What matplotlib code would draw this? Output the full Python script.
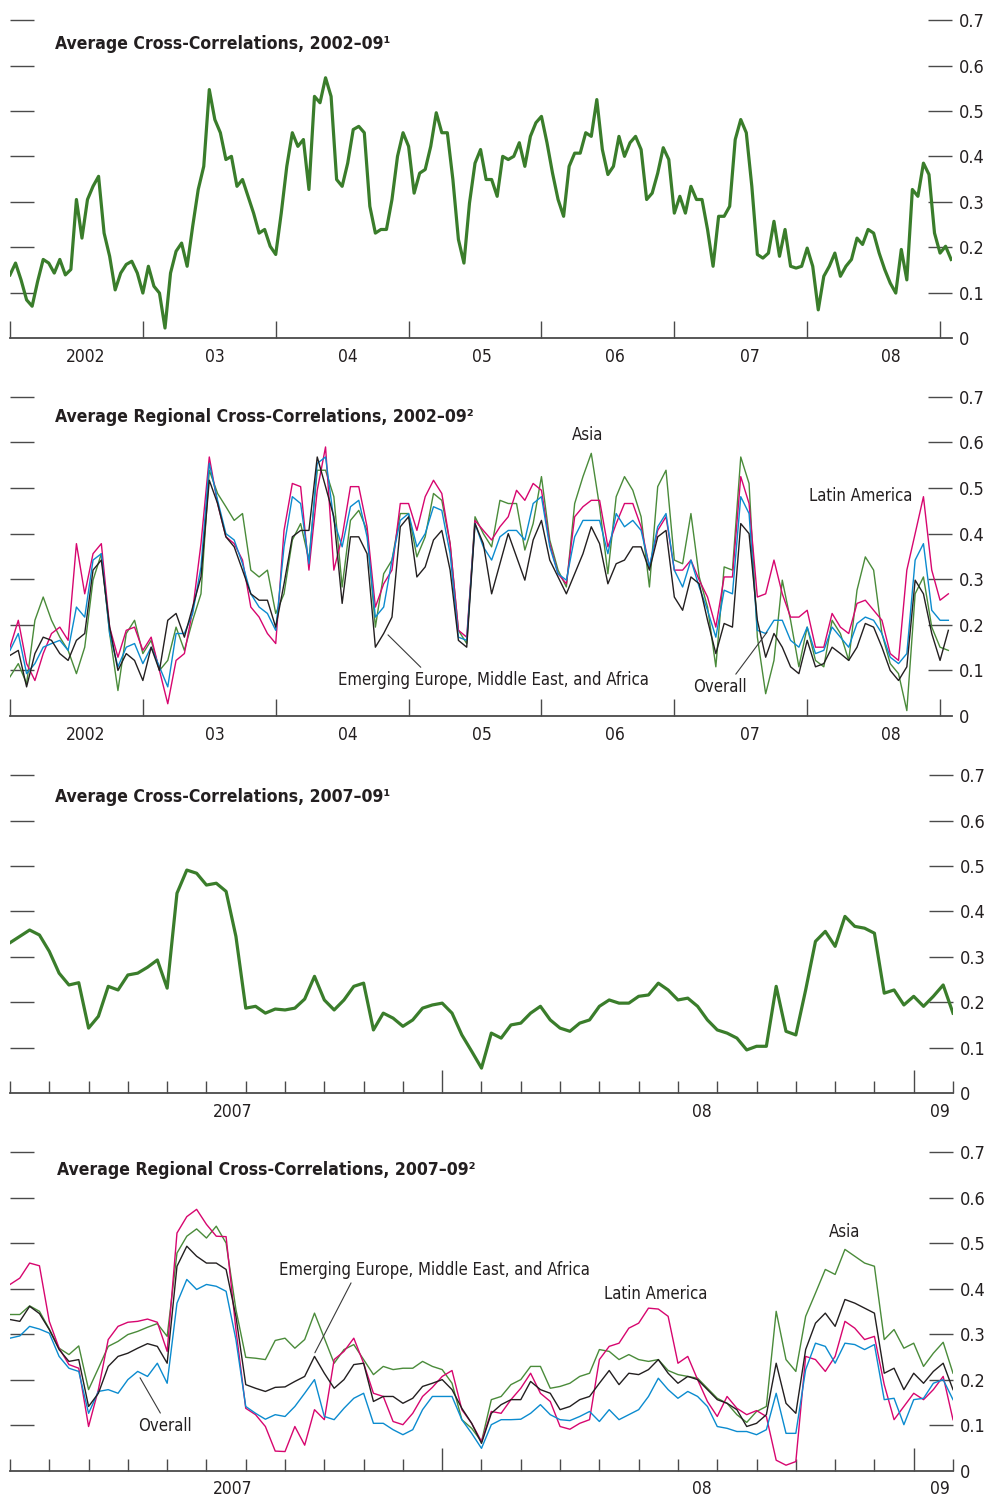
import numpy as np
import matplotlib
matplotlib.use("Agg")
import matplotlib.pyplot as plt
from matplotlib import font_manager

# ---- data: average cross-correlations ----
# panel 1: overall, 2002-09, samples every 1/24 year from Jan 2002
overall_02 = [
    0.139, 0.165, 0.128, 0.084, 0.070, 0.125, 0.173, 0.165, 0.143, 0.173,
    0.139, 0.151, 0.305, 0.220, 0.305, 0.334, 0.356, 0.231, 0.180, 0.106,
    0.143, 0.162, 0.169, 0.143, 0.099, 0.158, 0.114, 0.099, 0.022, 0.143,
    0.191, 0.209, 0.158, 0.246, 0.327, 0.378, 0.547, 0.481, 0.452, 0.393,
    0.400, 0.334, 0.349, 0.312, 0.275, 0.231, 0.239, 0.202, 0.184, 0.275,
    0.378, 0.452, 0.422, 0.437, 0.327, 0.532, 0.518, 0.573, 0.532, 0.349,
    0.334, 0.385, 0.459, 0.466, 0.452, 0.290, 0.231, 0.239, 0.239, 0.305,
    0.400, 0.452, 0.422, 0.319, 0.363, 0.371, 0.422, 0.496, 0.452, 0.452,
    0.349, 0.217, 0.165, 0.297, 0.385, 0.415, 0.349, 0.349, 0.312, 0.400,
    0.393, 0.400, 0.430, 0.378, 0.444, 0.474, 0.488, 0.430, 0.363, 0.305,
    0.268, 0.378, 0.407, 0.407, 0.452, 0.444, 0.525, 0.415, 0.360, 0.378,
    0.444, 0.400, 0.430, 0.444, 0.415, 0.305, 0.319, 0.363, 0.419, 0.393,
    0.275, 0.312, 0.275, 0.334, 0.305, 0.305, 0.239, 0.158, 0.268, 0.268,
    0.290, 0.437, 0.481, 0.452, 0.334, 0.184, 0.176, 0.187, 0.257, 0.180,
    0.239, 0.158, 0.154, 0.158, 0.198, 0.158, 0.062, 0.136, 0.158, 0.187,
    0.136, 0.158, 0.173, 0.220, 0.206, 0.239, 0.231, 0.187, 0.151, 0.121,
    0.099, 0.195, 0.128, 0.327, 0.312, 0.385, 0.360, 0.231, 0.187, 0.202,
    0.173]

# panel 2: regional, 2002-09, samples every 1/16 year
asia_02 = [
    0.086, 0.115, 0.071, 0.210, 0.261, 0.210, 0.173, 0.144, 0.093, 0.151,
    0.298, 0.356, 0.181, 0.056, 0.181, 0.210, 0.137, 0.166, 0.100, 0.122,
    0.195, 0.144, 0.210, 0.268, 0.539, 0.488, 0.459, 0.429, 0.444, 0.320,
    0.305, 0.320, 0.225, 0.268, 0.386, 0.422, 0.342, 0.539, 0.539, 0.481,
    0.283, 0.429, 0.451, 0.407, 0.195, 0.312, 0.342, 0.444, 0.444, 0.349,
    0.393, 0.488, 0.473, 0.378, 0.188, 0.159, 0.437, 0.400, 0.371, 0.473,
    0.466, 0.466, 0.364, 0.422, 0.525, 0.386, 0.320, 0.283, 0.466, 0.525,
    0.576, 0.459, 0.312, 0.481, 0.525, 0.495, 0.437, 0.283, 0.503, 0.539,
    0.342, 0.334, 0.444, 0.305, 0.239, 0.108, 0.327, 0.320, 0.568, 0.510,
    0.173, 0.049, 0.122, 0.298, 0.210, 0.108, 0.195, 0.122, 0.108, 0.210,
    0.181, 0.122, 0.276, 0.349, 0.320, 0.181, 0.115, 0.093, 0.012, 0.268,
    0.305, 0.195, 0.151, 0.144]
latam_02 = [
    0.151, 0.210, 0.115, 0.078, 0.137, 0.181, 0.195, 0.166, 0.378, 0.268,
    0.356, 0.378, 0.195, 0.129, 0.188, 0.195, 0.144, 0.173, 0.100, 0.027,
    0.122, 0.137, 0.232, 0.378, 0.568, 0.466, 0.393, 0.378, 0.342, 0.239,
    0.217, 0.181, 0.159, 0.407, 0.510, 0.503, 0.320, 0.495, 0.590, 0.320,
    0.393, 0.503, 0.503, 0.415, 0.239, 0.290, 0.320, 0.466, 0.466, 0.407,
    0.481, 0.517, 0.488, 0.378, 0.188, 0.173, 0.429, 0.407, 0.386, 0.415,
    0.437, 0.495, 0.473, 0.510, 0.495, 0.378, 0.312, 0.290, 0.437, 0.459,
    0.473, 0.473, 0.371, 0.422, 0.466, 0.466, 0.415, 0.327, 0.407, 0.437,
    0.320, 0.320, 0.342, 0.298, 0.261, 0.195, 0.305, 0.305, 0.525, 0.466,
    0.261, 0.268, 0.342, 0.268, 0.217, 0.217, 0.232, 0.151, 0.151, 0.225,
    0.195, 0.181, 0.247, 0.254, 0.232, 0.210, 0.137, 0.122, 0.320, 0.400,
    0.481, 0.320, 0.254, 0.268]
overall_reg_02 = [
    0.144, 0.181, 0.093, 0.115, 0.151, 0.159, 0.166, 0.144, 0.239, 0.217,
    0.342, 0.356, 0.181, 0.108, 0.151, 0.159, 0.115, 0.151, 0.108, 0.064,
    0.181, 0.181, 0.225, 0.327, 0.554, 0.473, 0.400, 0.386, 0.334, 0.268,
    0.239, 0.225, 0.188, 0.371, 0.481, 0.466, 0.334, 0.554, 0.568, 0.429,
    0.371, 0.459, 0.473, 0.393, 0.217, 0.239, 0.342, 0.429, 0.444, 0.371,
    0.400, 0.459, 0.451, 0.356, 0.173, 0.166, 0.422, 0.371, 0.342, 0.393,
    0.407, 0.407, 0.386, 0.466, 0.481, 0.371, 0.312, 0.298, 0.393, 0.429,
    0.429, 0.429, 0.356, 0.444, 0.415, 0.429, 0.407, 0.327, 0.415, 0.444,
    0.320, 0.283, 0.342, 0.283, 0.232, 0.173, 0.276, 0.268, 0.481, 0.444,
    0.188, 0.181, 0.210, 0.210, 0.166, 0.151, 0.195, 0.137, 0.144, 0.195,
    0.173, 0.151, 0.203, 0.217, 0.210, 0.181, 0.129, 0.115, 0.137, 0.342,
    0.378, 0.232, 0.210, 0.210]
emea_02 = [
    0.133, 0.144, 0.064, 0.137, 0.173, 0.166, 0.137, 0.122, 0.166, 0.181,
    0.320, 0.342, 0.195, 0.100, 0.137, 0.122, 0.078, 0.151, 0.100, 0.210,
    0.225, 0.173, 0.239, 0.305, 0.517, 0.466, 0.393, 0.371, 0.320, 0.268,
    0.254, 0.254, 0.195, 0.290, 0.393, 0.407, 0.407, 0.568, 0.503, 0.437,
    0.247, 0.393, 0.393, 0.356, 0.151, 0.181, 0.217, 0.415, 0.437, 0.305,
    0.327, 0.386, 0.407, 0.320, 0.166, 0.151, 0.422, 0.378, 0.268, 0.334,
    0.400, 0.349, 0.298, 0.386, 0.429, 0.342, 0.305, 0.268, 0.312, 0.356,
    0.415, 0.378, 0.290, 0.334, 0.342, 0.371, 0.371, 0.320, 0.393, 0.407,
    0.261, 0.232, 0.305, 0.290, 0.210, 0.137, 0.203, 0.195, 0.422, 0.400,
    0.210, 0.129, 0.181, 0.151, 0.108, 0.093, 0.166, 0.108, 0.115, 0.151,
    0.137, 0.122, 0.151, 0.203, 0.195, 0.151, 0.100, 0.078, 0.108, 0.298,
    0.268, 0.181, 0.122, 0.188]

# panel 3: overall, Feb 2007 - Jan 2009, samples every 1/4 month
overall_07 = [
    0.331, 0.345, 0.359, 0.348, 0.312, 0.264, 0.238, 0.243, 0.143, 0.169,
    0.235, 0.227, 0.260, 0.264, 0.277, 0.293, 0.231, 0.440, 0.491, 0.484,
    0.458, 0.462, 0.444, 0.345, 0.187, 0.191, 0.176, 0.185, 0.183, 0.187,
    0.207, 0.257, 0.205, 0.183, 0.205, 0.235, 0.242, 0.139, 0.176, 0.165,
    0.147, 0.161, 0.187, 0.194, 0.198, 0.176, 0.128, 0.092, 0.055, 0.132,
    0.121, 0.150, 0.154, 0.176, 0.191, 0.161, 0.143, 0.136, 0.154, 0.161,
    0.191, 0.205, 0.198, 0.198, 0.213, 0.216, 0.242, 0.227, 0.205, 0.209,
    0.191, 0.161, 0.139, 0.132, 0.121, 0.095, 0.103, 0.103, 0.235, 0.136,
    0.128, 0.227, 0.334, 0.356, 0.323, 0.389, 0.367, 0.363, 0.352, 0.220,
    0.227, 0.194, 0.213, 0.191, 0.213, 0.238, 0.176]

# panel 4: regional, Feb 2007 - Jan 2009
latam_07 = [
    0.409, 0.423, 0.456, 0.450, 0.328, 0.269, 0.233, 0.225, 0.097, 0.178,
    0.288, 0.317, 0.326, 0.328, 0.333, 0.326, 0.262, 0.522, 0.558, 0.574,
    0.541, 0.515, 0.514, 0.310, 0.137, 0.123, 0.097, 0.043, 0.042, 0.097,
    0.056, 0.134, 0.112, 0.244, 0.262, 0.291, 0.236, 0.170, 0.163, 0.108,
    0.101, 0.126, 0.163, 0.183, 0.207, 0.220, 0.134, 0.104, 0.064, 0.130,
    0.126, 0.156, 0.181, 0.214, 0.170, 0.152, 0.097, 0.091, 0.104, 0.112,
    0.244, 0.273, 0.280, 0.313, 0.324, 0.357, 0.355, 0.339, 0.236, 0.251,
    0.200, 0.152, 0.119, 0.163, 0.137, 0.123, 0.132, 0.119, 0.023, 0.012,
    0.020, 0.251, 0.244, 0.218, 0.251, 0.328, 0.313, 0.288, 0.295, 0.189,
    0.112, 0.141, 0.170, 0.156, 0.178, 0.207, 0.112]
asia_07 = [
    0.343, 0.343, 0.362, 0.350, 0.311, 0.269, 0.255, 0.274, 0.178, 0.225,
    0.273, 0.284, 0.299, 0.306, 0.315, 0.323, 0.295, 0.478, 0.515, 0.531,
    0.511, 0.537, 0.500, 0.354, 0.249, 0.247, 0.244, 0.286, 0.291, 0.269,
    0.288, 0.346, 0.291, 0.236, 0.266, 0.277, 0.244, 0.211, 0.229, 0.222,
    0.225, 0.225, 0.240, 0.229, 0.222, 0.192, 0.112, 0.093, 0.064, 0.156,
    0.163, 0.189, 0.200, 0.229, 0.229, 0.181, 0.185, 0.192, 0.207, 0.214,
    0.266, 0.262, 0.244, 0.255, 0.244, 0.240, 0.244, 0.220, 0.211, 0.207,
    0.203, 0.181, 0.159, 0.148, 0.123, 0.106, 0.130, 0.141, 0.350, 0.244,
    0.218, 0.339, 0.390, 0.442, 0.431, 0.486, 0.471, 0.456, 0.449, 0.288,
    0.310, 0.269, 0.280, 0.229, 0.258, 0.282, 0.214]
emea_07 = [
    0.332, 0.328, 0.361, 0.345, 0.310, 0.266, 0.240, 0.244, 0.141, 0.170,
    0.229, 0.251, 0.258, 0.269, 0.279, 0.273, 0.236, 0.449, 0.493, 0.471,
    0.456, 0.456, 0.442, 0.339, 0.189, 0.181, 0.174, 0.183, 0.184, 0.196,
    0.207, 0.251, 0.214, 0.181, 0.200, 0.233, 0.236, 0.152, 0.163, 0.163,
    0.148, 0.159, 0.185, 0.192, 0.200, 0.178, 0.137, 0.104, 0.060, 0.126,
    0.145, 0.156, 0.156, 0.196, 0.178, 0.170, 0.134, 0.141, 0.156, 0.163,
    0.192, 0.220, 0.189, 0.214, 0.211, 0.222, 0.244, 0.214, 0.192, 0.207,
    0.200, 0.178, 0.156, 0.148, 0.134, 0.097, 0.104, 0.123, 0.236, 0.148,
    0.126, 0.266, 0.324, 0.346, 0.317, 0.376, 0.368, 0.357, 0.346, 0.214,
    0.225, 0.178, 0.214, 0.192, 0.218, 0.236, 0.178]
overall_reg_07 = [
    0.291, 0.296, 0.317, 0.311, 0.302, 0.251, 0.225, 0.218, 0.126, 0.174,
    0.178, 0.170, 0.200, 0.218, 0.207, 0.236, 0.192, 0.368, 0.420, 0.398,
    0.409, 0.405, 0.394, 0.288, 0.141, 0.126, 0.113, 0.123, 0.119, 0.141,
    0.170, 0.200, 0.119, 0.112, 0.137, 0.159, 0.170, 0.104, 0.104, 0.090,
    0.079, 0.090, 0.134, 0.163, 0.163, 0.163, 0.112, 0.082, 0.049, 0.101,
    0.112, 0.112, 0.113, 0.126, 0.145, 0.123, 0.112, 0.110, 0.119, 0.130,
    0.108, 0.134, 0.112, 0.123, 0.134, 0.163, 0.203, 0.178, 0.159, 0.174,
    0.163, 0.141, 0.097, 0.093, 0.086, 0.086, 0.079, 0.090, 0.170, 0.082,
    0.082, 0.222, 0.280, 0.273, 0.236, 0.280, 0.277, 0.266, 0.277, 0.156,
    0.159, 0.101, 0.156, 0.159, 0.192, 0.200, 0.156]

years_a = 2002 + np.arange(len(overall_02)) / 24
years_b = 2002 + np.arange(len(asia_02)) / 16
months = np.arange(len(overall_07)) / 4     # months since Feb 2007

year_labels = ["2002", "03", "04", "05", "06", "07", "08"]
month_labels = ["2007", "08", "09"]
y_ticks = [0, 0.1, 0.2, 0.3, 0.4, 0.5, 0.6, 0.7]
y_labels = ["0", "0.1", "0.2", "0.3", "0.4", "0.5", "0.6", "0.7"]

# ---- fonts / colours ----
names = {f.name for f in font_manager.fontManager.ttflist}
if "Liberation Sans Narrow" in names:
    plt.rcParams["font.family"] = ["Liberation Sans Narrow", "DejaVu Sans"]
else:
    plt.rcParams["font.family"] = ["DejaVu Sans"]
    plt.rcParams["font.stretch"] = "condensed"

GREEN_THICK = "#3a7d2b"
GREEN = "#4a8b3a"
MAGENTA = "#d7066f"
BLUE = "#0b8bcf"
BLACK = "#231f20"
AXIS = "#4a4a4a"
TEXT = "#231f20"

fig = plt.figure(figsize=(9.89, 14.99), dpi=100)
ax1 = fig.add_axes([0.0101, 0.7745, 0.9525, 0.2121])
ax2 = fig.add_axes([0.0101, 0.5223, 0.9525, 0.2130])
ax3 = fig.add_axes([0.0101, 0.2708, 0.9535, 0.2121])
ax4 = fig.add_axes([0.0101, 0.0189, 0.9535, 0.2126])


def style(ax, title, ty, tx=0.048):
    for s in ["top", "left", "right"]:
        ax.spines[s].set_visible(False)
    ax.spines["bottom"].set_color(AXIS)
    ax.spines["bottom"].set_linewidth(1.3)
    ax.set_ylim(0, 0.7)
    ax.set_yticks(y_ticks)
    ax.set_yticklabels(y_labels)
    ax.tick_params(axis="y", direction="in", length=17, width=1.0, color=AXIS,
                   left=True, right=True, labelleft=False, labelright=True,
                   pad=5, labelsize=13, labelcolor=TEXT)
    t0 = ax.yaxis.get_major_ticks()[0]
    t0.tick1line.set_visible(False)
    t0.tick2line.set_visible(False)
    ax.text(tx, ty, title, transform=ax.transAxes, fontsize=12.6,
            fontweight="bold", va="center", ha="left", color=TEXT)


def years_axis(ax):
    ax.set_xlim(2002, 2009.09)
    ax.set_xticks(range(2002, 2010), minor=True)
    ax.set_xticks([2002.57, 2003.54, 2004.54, 2005.55, 2006.55, 2007.57, 2008.63])
    ax.set_xticklabels(year_labels)
    ax.tick_params(axis="x", which="minor", direction="in", length=12.5,
                   width=1.0, color=AXIS)
    ax.tick_params(axis="x", which="major", length=0, pad=7, labelsize=12.5,
                   labelcolor=TEXT)


def months_axis(ax):
    ax.set_xlim(0, 24)
    ax.set_xticks([11, 23])
    ax.set_xticklabels(["", ""])
    ax.set_xticks(range(0, 25), minor=True)
    ax.tick_params(axis="x", which="major", direction="in", length=16.5,
                   width=1.0, color=AXIS)
    ax.tick_params(axis="x", which="minor", direction="in", length=9,
                   width=1.0, color=AXIS)
    for pos, lab in zip([5.67, 17.6, 23.66], month_labels):
        ax.annotate(lab, xy=(pos, 0), xycoords=("data", "axes fraction"),
                    xytext=(0, -7), textcoords="offset points", ha="center",
                    va="top", fontsize=12.5, color=TEXT)


def label(ax, text, xy_text, xy_point=None, relpos=(0.5, 0.5)):
    if xy_point is None:
        ax.text(xy_text[0], xy_text[1], text, ha="center", va="center",
                fontsize=12, color=TEXT)
    else:
        ax.annotate(text, xy=xy_point, xytext=xy_text, ha="center",
                    va="center", fontsize=12, color=TEXT,
                    arrowprops=dict(arrowstyle="-", color="#3a3a3a", lw=0.8,
                                    shrinkA=1, shrinkB=0, relpos=relpos))


# panel 1
ax1.plot(years_a, overall_02, color=GREEN_THICK, lw=2.3)
style(ax1, "Average Cross-Correlations, 2002\u201309\u00b9", 0.9245)
years_axis(ax1)

# panel 2
ax2.plot(years_b, asia_02, color=GREEN, lw=1.0)
ax2.plot(years_b, latam_02, color=MAGENTA, lw=1.0)
ax2.plot(years_b, overall_reg_02, color=BLUE, lw=1.0)
ax2.plot(years_b, emea_02, color=BLACK, lw=1.0)
style(ax2, "Average Regional Cross-Correlations, 2002\u201309\u00b2", 0.936)
years_axis(ax2)
label(ax2, "Asia", (2006.35, 0.616))
label(ax2, "Latin America", (2008.40, 0.482))
label(ax2, "Emerging Europe, Middle East, and Africa", (2005.635, 0.079),
      (2004.845, 0.178), relpos=(0.28, 1.0))
label(ax2, "Overall", (2007.344, 0.0636), (2007.698, 0.184), relpos=(0.74, 1.0))

# panel 3
ax3.plot(months, overall_07, color=GREEN_THICK, lw=2.3)
style(ax3, "Average Cross-Correlations, 2007\u201309\u00b9", 0.931)
months_axis(ax3)

# panel 4
ax4.plot(months, asia_07, color=GREEN, lw=1.0)
ax4.plot(months, latam_07, color=MAGENTA, lw=1.0)
ax4.plot(months, overall_reg_07, color=BLUE, lw=1.0)
ax4.plot(months, emea_07, color=BLACK, lw=1.0)
style(ax4, "Average Regional Cross-Correlations, 2007\u201309\u00b2", 0.9435, tx=0.05)
months_axis(ax4)
label(ax4, "Overall", (3.94, 0.098), (3.31, 0.204), relpos=(0.46, 1.0))
label(ax4, "Emerging Europe, Middle East, and Africa", (10.79, 0.441),
      (7.76, 0.259), relpos=(0.24, 0.0))
label(ax4, "Latin America", (16.44, 0.388))
label(ax4, "Asia", (21.25, 0.524))

fig.savefig("out.png", dpi=100)
